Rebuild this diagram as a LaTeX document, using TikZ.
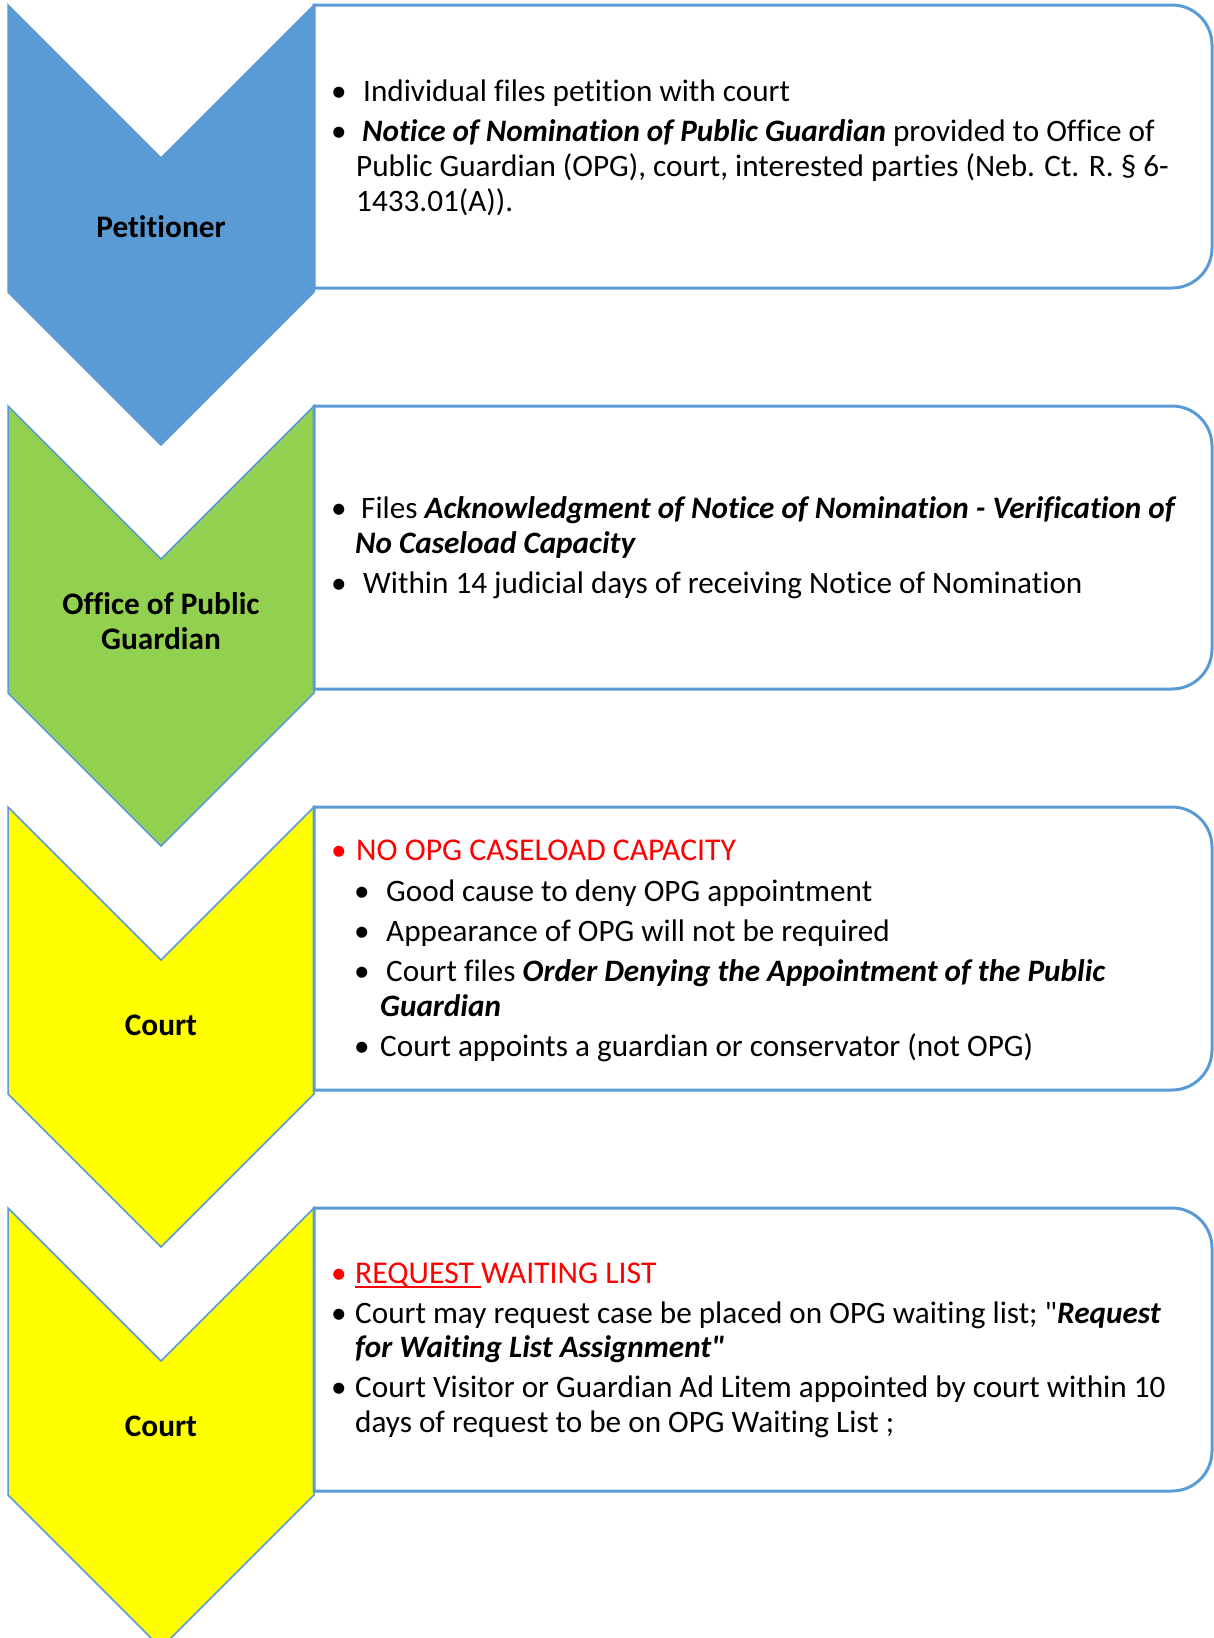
\documentclass[tikz,border=0pt]{standalone}
\usepackage{fontspec}
\setmainfont{Carlito}[Ligatures={TeXOff,NoCommon}]
\definecolor{chevblue}{HTML}{5B9BD5}
\definecolor{chevgreen}{HTML}{92D050}
\definecolor{chevyellow}{HTML}{FFFF00}
\definecolor{edgeblue}{HTML}{5B9BD5}
\definecolor{boxblue}{HTML}{5B9BD5}
\definecolor{alertred}{HTML}{FF0000}
\newcommand\bitx[1]{\textbf{\textit{#1}}}
\newcommand\myul[1]{\setbox0=\hbox{#1}\rlap{\rule[-5pt]{\wd0}{2pt}}\box0}
\tikzset{
  chev/.style={draw=edgeblue, line width=1.5pt, line join=miter},
  stepbox/.style={draw=boxblue, line width=3pt, fill=white},
  txt/.style={anchor=base west, inner sep=0pt, font=\fontsize{31.2}{35}\selectfont},
  bul/.style={anchor=base, inner sep=0pt, font=\fontsize{31.2}{35}\selectfont},
  alerttxt/.style={txt, text=alertred, font=\fontsize{31.7}{35}\selectfont},
  lbl/.style={anchor=base, inner sep=0pt, align=center, font=\fontsize{31.3}{34.5}\selectfont\bfseries},
}
\newcommand\chevron[2]{% top y, fill colour
  \fill[#2] (8,#1) -- (161,#1+153) -- (314,#1) -- (314,#1+287) -- (161,#1+440) -- (8,#1+287) -- cycle;
  \draw[chev] (8,#1) -- (161,#1+153) -- (314,#1) -- (314,#1+287) -- (161,#1+440) -- (8,#1+287) -- cycle;}
\newcommand\stepframe[1]{% top y
  \draw[stepbox] (314,#1+283) -- (314,#1) -- (1172,#1)
    .. controls (1194.1,#1) and (1212,#1+17.9) .. (1212,#1+40)
    -- (1212,#1+243)
    .. controls (1212,#1+265.1) and (1194.1,#1+283) .. (1172,#1+283) -- cycle;}
\begin{document}
\begin{tikzpicture}[x=1pt,y=-1pt]
\useasboundingbox (0,0) rectangle (1214,1638);
\clip (0,0) rectangle (1214,1638);
\fill[white] (0,0) rectangle (1214,1638);

% chevrons
\chevron{5}{chevblue}
\chevron{406}{chevgreen}
\chevron{807}{chevyellow}
\chevron{1208}{chevyellow}

% boxes
\stepframe{5}
\stepframe{406}
\stepframe{807}
\stepframe{1208}

% labels
\node[lbl] (petitioner) at (161,237) {Petitioner};
\node[lbl] (opg) at (161,649) {Office of Public\\Guardian};
\node[lbl] (court1) at (161,1035) {Court};
\node[lbl] (court2) at (161,1436) {Court};

% box 1
\node[bul] (b1a) at (339,101) {•};
\node[txt] (t1a) at (363,101) {Individual files petition with court};
\node[bul] (b1b) at (339,141) {•};
\node[txt] (t1b) at (362,141) {\bitx{Notice of Nomination of Public Guardian} provided to Office of};
\node[txt] (t1c) at (356,176) {Public Guardian (OPG), court, interested parties (Neb. Ct. R. § 6-};
\node[txt] (t1d) at (356,211) {1433.01(A)).};

% box 2
\node[bul] (b2a) at (339,518) {•};
\node[txt] (t2a) at (361,518) {Files \bitx{Acknowledgment of Notice of Nomination - Verification of}};
\node[txt] (t2b) at (355,553) {\bitx{No Caseload Capacity}};
\node[bul] (b2b) at (339,593) {•};
\node[txt] (t2c) at (363,593) {Within 14 judicial days of receiving Notice of Nomination};

% box 3
\node[bul, text=alertred] (b3a) at (339,860) {•};
\node[alerttxt] (t3a) at (356,860) {NO OPG CASELOAD CAPACITY};
\node[bul] (b3b) at (362,901) {•};
\node[txt] (t3b) at (386,901) {Good cause to deny OPG appointment};
\node[bul] (b3c) at (362,941) {•};
\node[txt] (t3c) at (386,941) {Appearance of OPG will not be required};
\node[bul] (b3d) at (362,981) {•};
\node[txt] (t3d) at (386,981) {Court files \bitx{Order Denying the Appointment of the Public}};
\node[txt] (t3e) at (380,1016) {\bitx{Guardian}};
\node[bul] (b3e) at (362,1056) {•};
\node[txt] (t3f) at (380,1056) {Court appoints a guardian or conservator (not OPG)};

% box 4
\node[bul, text=alertred] (b4a) at (339,1283) {•};
\node[alerttxt] (t4a) at (355,1283) {\myul{REQUEST }WAITING LIST};
\node[bul] (b4b) at (339,1323) {•};
\node[txt] (t4b) at (355,1323) {Court may request case be placed on OPG waiting list; "\bitx{Request}};
\node[txt] (t4c) at (355,1357) {\bitx{for Waiting List Assignment"}};
\node[bul] (b4c) at (339,1397) {•};
\node[txt] (t4d) at (355,1397) {Court Visitor or Guardian Ad Litem appointed by court within 10};
\node[txt] (t4e) at (355,1432) {days of request to be on OPG Waiting List ;};
\end{tikzpicture}
\end{document}
